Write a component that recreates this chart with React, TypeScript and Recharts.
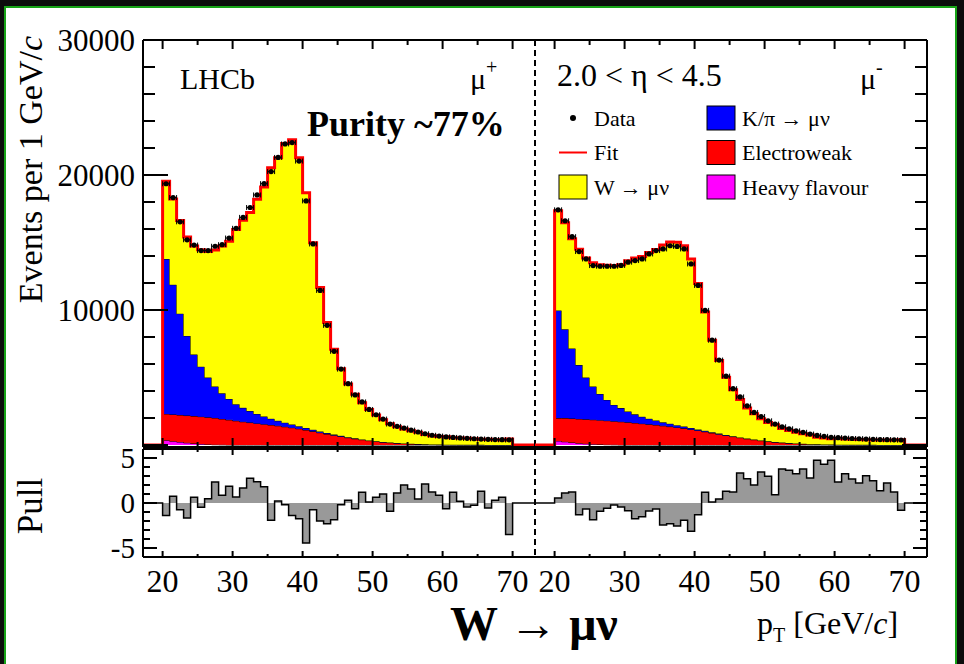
import React from "react";
import { ComposedChart, Area, Line, Scatter, XAxis, YAxis, Legend } from "recharts";

const FONT = "'Liberation Serif', 'Times New Roman', serif";

// lower edges of the 1 GeV pT bins
const bins = [
  20, 21, 22, 23, 24, 25, 26, 27, 28, 29, 30, 31, 32, 33, 34, 35, 36, 37, 38, 39,
  40, 41, 42, 43, 44, 45, 46, 47, 48, 49, 50, 51, 52, 53, 54, 55, 56, 57, 58, 59,
  60, 61, 62, 63, 64, 65, 66, 67, 68, 69,
];
const binEnd = 70;
const xRange = [17.2, 73.2];
const yRange = [-150, 30000];

// mu+ panel
const plusW = [
  5760, 6360, 6900, 7330, 8040, 8660, 9350, 10110, 10910, 11690,
  12950, 13900, 14700, 15900, 17000, 18590, 19480, 20680, 21090, 19890,
  17420, 13850, 10660, 8190, 6320, 4960, 3940, 3260, 2710, 2290,
  1940, 1650, 1400, 1200, 1070, 965, 880, 720, 650, 610,
  590, 510, 500, 490, 460, 400, 420, 390, 370, 440,
];
const plusKpi = [
  11480, 9610, 7510, 5900, 4560, 3700, 2940, 2330, 1900, 1550,
  1230, 1030, 860, 700, 570, 460, 370, 300, 240, 190,
  150, 120, 95, 75, 60, 48, 38, 30, 24, 19,
  15, 12, 10, 8, 6, 5, 4, 3, 3, 2,
  2, 2, 1, 1, 1, 1, 1, 1, 1, 1,
];
const plusEw = [
  1950, 1980, 2000, 2020, 2030, 2030, 2010, 1980, 1920, 1860,
  1790, 1720, 1660, 1600, 1540, 1480, 1420, 1350, 1280, 1200,
  1110, 1010, 910, 810, 720, 630, 540, 460, 390, 320,
  260, 210, 170, 135, 105, 80, 60, 45, 35, 25,
  20, 15, 12, 10, 8, 7, 6, 5, 4, 3,
];
const plusHf = [
  350, 280, 220, 160, 110, 70, 40, 20, 10, 0,
  0, 0, 0, 0, 0, 0, 0, 0, 0, 0,
  0, 0, 0, 0, 0, 0, 0, 0, 0, 0,
  0, 0, 0, 0, 0, 0, 0, 0, 0, 0,
  0, 0, 0, 0, 0, 0, 0, 0, 0, 0,
];
const plusData = [
  19350, 18330, 16530, 15200, 14810, 14400, 14400, 14720, 14840, 15330,
  16050, 16860, 17590, 18520, 19360, 20250, 21300, 22300, 22400, 21030,
  18080, 14890, 11450, 8860, 6940, 5620, 4540, 3710, 3190, 2630,
  2240, 1920, 1550, 1380, 1250, 1100, 960, 830, 720, 660,
  600, 560, 520, 490, 460, 440, 420, 400, 390, 380,
];
const plusPull = [
  -1.4, 0.74, -0.74, -1.67, 0.63, -0.48, 0.48, 2.33, 0.85, 1.85,
  0.67, 1.67, 2.74, 2.37, 1.81, -1.93, 0.22, -0.19, -1.4, -1.74,
  -4.44, -0.74, -2.0, -2.3, -1.85, -0.19, 0.3, -0.63, 1.19, 0.11,
  0.63, 1.0, -0.93, 1.11, 2.0, 1.56, 0.44, 2.11, 1.22, 0.85,
  -0.63, 1.19, 0.19, -0.44, -0.26, 1.3, -0.56, 0.3, 0.63, -3.5,
];

// mu- panel
const minusW = [
  7380, 7900, 8130, 8570, 8870, 9170, 9570, 9970, 10300, 10620,
  11160, 11590, 11870, 12320, 12670, 13130, 13470, 13550, 13390, 12520,
  10800, 8800, 6810, 5420, 4270, 3440, 2800, 2270, 1910, 1620,
  1400, 1290, 1040, 930, 840, 740, 670, 530, 490, 430,
  470, 420, 410, 400, 370, 360, 360, 340, 360, 380,
];
const minusKpi = [
  7980, 6580, 5190, 3990, 3090, 2460, 1940, 1540, 1210, 1010,
  800, 640, 510, 410, 330, 260, 210, 170, 135, 110,
  85, 68, 54, 43, 34, 27, 21, 17, 13, 10,
  8, 6, 5, 4, 3, 3, 2, 2, 1, 1,
  1, 1, 1, 1, 1, 1, 1, 1, 1, 1,
];
const minusEw = [
  1690, 1750, 1780, 1800, 1810, 1810, 1805, 1780, 1750, 1720,
  1680, 1630, 1580, 1530, 1480, 1420, 1360, 1300, 1230, 1150,
  1070, 980, 890, 800, 710, 620, 540, 460, 390, 320,
  260, 210, 170, 135, 105, 80, 60, 45, 35, 25,
  20, 15, 12, 10, 8, 7, 6, 5, 4, 3,
];
const minusHf = [
  300, 240, 180, 130, 90, 60, 35, 20, 10, 0,
  0, 0, 0, 0, 0, 0, 0, 0, 0, 0,
  0, 0, 0, 0, 0, 0, 0, 0, 0, 0,
  0, 0, 0, 0, 0, 0, 0, 0, 0, 0,
  0, 0, 0, 0, 0, 0, 0, 0, 0, 0,
];
const minusData = [
  17420, 16610, 15430, 14330, 13780, 13290, 13240, 13240, 13240, 13300,
  13540, 13660, 13780, 14150, 14400, 14520, 14760, 14710, 14520, 13410,
  11820, 9970, 7760, 6290, 5100, 4170, 3560, 2900, 2410, 2110,
  1790, 1550, 1350, 1200, 1050, 940, 810, 710, 640, 570,
  540, 510, 480, 460, 440, 420, 400, 390, 380, 370,
];
const minusPull = [
  0.56, 1.11, 1.22, -1.3, -0.67, -1.85, -0.93, -0.59, -0.22, -0.44,
  -0.85, -1.74, -1.52, -0.89, -0.67, -2.44, -2.3, -2.56, -1.93, -3.15,
  -1.3, 1.19, 0.11, 0.44, 1.3, 1.22, 3.33, 2.7, 2.0, 3.44,
  2.96, 0.93, 3.78, 3.63, 3.26, 3.78, 2.78, 4.74, 4.3, 4.74,
  2.33, 3.26, 2.67, 2.22, 3.04, 2.48, 1.37, 2.22, 1.22, -0.81,
];

// axis ticks
const xTicks = [20, 25, 30, 35, 40, 45, 50, 55, 60, 65, 70];
const xLabels = [20, 30, 40, 50, 60, 70];
const yTicks = [0, 2000, 4000, 6000, 8000, 10000, 12000, 14000, 16000, 18000, 20000, 22000, 24000, 26000, 28000, 30000];
const yLabels = [10000, 20000, 30000];
const pullTicks = [-5, -4, -3, -2, -1, 0, 1, 2, 3, 4, 5];
const pullLabels = [-5, 0, 5];

const C = {
  w: "#ffff00",
  kpi: "#0000ff",
  ew: "#ff0000",
  hf: "#ff00ff",
  fit: "#ff0000",
  pull: "#999999",
};

const legendItems = [
  { label: "Data", kind: "marker", color: "#000" },
  { label: "K/\u03c0 \u2192 \u03bc\u03bd", kind: "box", color: C.kpi },
  { label: "Fit", kind: "line", color: C.fit },
  { label: "Electroweak", kind: "box", color: C.ew },
  { label: "W  \u2192 \u03bc\u03bd", kind: "box", color: C.w },
  { label: "Heavy flavour", kind: "box", color: C.hf },
];

function stackRows(w: number[], kpi: number[], ew: number[], hf: number[]) {
  const zero = { hf: 0, ew: 0, kpi: 0, w: 0, fit: 0 };
  const rows = [{ x: xRange[0], ...zero }];
  bins.forEach((b, i) =>
    rows.push({ x: b, hf: hf[i], ew: ew[i], kpi: kpi[i], w: w[i], fit: hf[i] + ew[i] + kpi[i] + w[i] })
  );
  rows.push({ x: binEnd, ...zero }, { x: xRange[1], ...zero });
  return rows;
}

function pointRows(data: number[]) {
  return bins.map((b, i) => ({ x: b + 0.5, y: data[i] }));
}

function pullRows(pull: number[]) {
  const rows = [{ x: xRange[0], pull: 0 }];
  bins.forEach((b, i) => rows.push({ x: b, pull: pull[i] }));
  rows.push({ x: binEnd, pull: 0 }, { x: xRange[1], pull: 0 });
  return rows;
}

const DataPoint = (p: any) => {
  const { cx, cy } = p;
  if (cx == null || cy == null) return null;
  return (
    <g>
      <line x1={cx - 3.5} x2={cx + 3.5} y1={cy} y2={cy} stroke="#000" strokeWidth={1} />
      <line x1={cx - 3.5} x2={cx - 3.5} y1={cy - 2.5} y2={cy + 2.5} stroke="#000" strokeWidth={1} />
      <line x1={cx + 3.5} x2={cx + 3.5} y1={cy - 2.5} y2={cy + 2.5} stroke="#000" strokeWidth={1} />
      <circle cx={cx} cy={cy} r={2.6} fill="#000" />
    </g>
  );
};

// ticks drawn inside the frame, ROOT style
const xTick = (dir: number, major: number, minor: number, label: boolean) => (p: any) => {
  const v = p.payload.value;
  const isMajor = xLabels.includes(v);
  const len = isMajor ? major : minor;
  return (
    <g>
      <line x1={p.x} x2={p.x} y1={p.y} y2={p.y + dir * len} stroke="#000" strokeWidth={2} />
      {label && isMajor && (
        <text x={p.x} y={p.y + 35} textAnchor="middle" fontFamily={FONT} fontSize={32} fill="#000">
          {v}
        </text>
      )}
    </g>
  );
};

const yTick = (dir: number, major: number, minor: number, majors: number[], labels: number[] | null, fs: number) => (p: any) => {
  const v = p.payload.value;
  const len = majors.includes(v) ? major : minor;
  return (
    <g>
      <line x1={p.x} x2={p.x + dir * len} y1={p.y} y2={p.y} stroke="#000" strokeWidth={2} />
      {labels && labels.includes(v) && (
        <text x={p.x - 8} y={p.y} dy="0.35em" textAnchor="end" fontFamily={FONT} fontSize={fs} fill="#000">
          {v}
        </text>
      )}
    </g>
  );
};

const frame = { stroke: "#000", strokeWidth: 2 };
const dashed = { stroke: "#000", strokeWidth: 2, strokeDasharray: "6 4" };
const yMajors = [0, 10000, 20000, 30000];

const LegendBox = () => (
  <svg width={340} height={100} style={{ display: "block" }}>
    {legendItems.map((it, i) => {
      const col = i % 2;
      const row = Math.floor(i / 2);
      const x0 = col === 0 ? 0 : 148;
      const cy = 13 + row * 34.5;
      const tx = col === 0 ? 36 : 184;
      return (
        <g key={it.label}>
          {it.kind === "marker" && <circle cx={x0 + 15} cy={cy} r={3} fill="#000" />}
          {it.kind === "line" && <line x1={x0 + 1} x2={x0 + 29} y1={cy} y2={cy} stroke={it.color} strokeWidth={2} />}
          {it.kind === "box" && (
            <rect x={x0 + 1} y={cy - 12} width={28} height={24} fill={it.color} stroke="#000" strokeWidth={1} />
          )}
          <text x={tx} y={cy} dy="0.35em" fontFamily={FONT} fontSize={22} fill="#000">
            {it.label}
          </text>
        </g>
      );
    })}
  </svg>
);

function UpperPanel(props: { rows: any[]; points: any[]; side: "left" | "right" }) {
  const left = props.side === "left";
  return (
    <ComposedChart
      width={left ? 540 : 434}
      height={452}
      data={props.rows}
      margin={{ top: 39, right: left ? 4 : 36, bottom: 4, left: left ? 0 : 5 }}
    >
      <XAxis xAxisId="b" dataKey="x" type="number" domain={xRange} allowDataOverflow ticks={xTicks} interval={0}
        height={1} tickSize={0} tickMargin={0} tickLine={false} axisLine={frame} tick={xTick(-1, 9, 5, false)} />
      <XAxis xAxisId="t" orientation="top" dataKey="x" type="number" domain={xRange} allowDataOverflow ticks={xTicks} interval={0}
        height={1} tickSize={0} tickMargin={0} tickLine={false} axisLine={frame} tick={xTick(1, 9, 5, false)} />
      {left ? (
        <YAxis yAxisId="y" type="number" domain={yRange} allowDataOverflow ticks={yTicks} interval={0} width={143}
          tickSize={0} tickMargin={0} tickLine={false} axisLine={frame} tick={yTick(1, 25, 12, yMajors, yLabels, 31)} />
      ) : (
        <YAxis yAxisId="y" orientation="right" type="number" domain={yRange} allowDataOverflow ticks={yTicks} interval={0} width={1}
          tickSize={0} tickMargin={0} tickLine={false} axisLine={frame} tick={yTick(-1, 25, 12, yMajors, null, 31)} />
      )}
      {left && (
        <YAxis yAxisId="d" orientation="right" type="number" domain={yRange} width={1} tick={false} tickLine={false} axisLine={dashed} />
      )}
      <Area xAxisId="b" yAxisId="y" type="stepAfter" dataKey="hf" stackId="s" fill={C.hf} fillOpacity={1} stroke="#000" strokeWidth={1} isAnimationActive={false} />
      <Area xAxisId="b" yAxisId="y" type="stepAfter" dataKey="ew" stackId="s" fill={C.ew} fillOpacity={1} stroke="#000" strokeWidth={1} isAnimationActive={false} />
      <Area xAxisId="b" yAxisId="y" type="stepAfter" dataKey="kpi" stackId="s" fill={C.kpi} fillOpacity={1} stroke="#000" strokeWidth={1} isAnimationActive={false} />
      <Area xAxisId="b" yAxisId="y" type="stepAfter" dataKey="w" stackId="s" fill={C.w} fillOpacity={1} stroke="#000" strokeWidth={1} isAnimationActive={false} />
      <Line xAxisId="b" yAxisId="y" type="stepAfter" dataKey="fit" stroke={C.fit} strokeWidth={3} dot={false} isAnimationActive={false} />
      <Scatter xAxisId="b" yAxisId="y" data={props.points} dataKey="y" shape={DataPoint} isAnimationActive={false} />
      {!left && (
        <Legend layout="horizontal" verticalAlign="middle" align="center" wrapperStyle={{ left: 28, top: 105, width: 340 }} content={() => <LegendBox />} />
      )}
    </ComposedChart>
  );
}

function PullPanel(props: { rows: any[]; side: "left" | "right" }) {
  const left = props.side === "left";
  return (
    <ComposedChart
      width={left ? 540 : 434}
      height={224}
      data={props.rows}
      margin={{ top: 8, right: left ? 4 : 36, bottom: 106, left: left ? 0 : 5 }}
    >
      <XAxis xAxisId="b" dataKey="x" type="number" domain={xRange} allowDataOverflow ticks={xTicks} interval={0}
        height={1} tickSize={0} tickMargin={0} tickLine={false} axisLine={frame} tick={xTick(-1, 6, 3, true)} />
      <XAxis xAxisId="t" orientation="top" dataKey="x" type="number" domain={xRange} allowDataOverflow ticks={xTicks} interval={0}
        height={1} tickSize={0} tickMargin={0} tickLine={false} axisLine={frame} tick={xTick(1, 6, 3, false)} />
      {left ? (
        <YAxis yAxisId="y" type="number" domain={[-6, 6]} allowDataOverflow ticks={pullTicks} interval={0} width={143}
          tickSize={0} tickMargin={0} tickLine={false} axisLine={frame} tick={yTick(1, 14, 7, pullLabels, pullLabels, 29)} />
      ) : (
        <YAxis yAxisId="y" orientation="right" type="number" domain={[-6, 6]} allowDataOverflow ticks={pullTicks} interval={0} width={1}
          tickSize={0} tickMargin={0} tickLine={false} axisLine={frame} tick={yTick(-1, 14, 7, pullLabels, null, 29)} />
      )}
      {left && (
        <YAxis yAxisId="d" orientation="right" type="number" domain={[-6, 6]} width={1} tick={false} tickLine={false} axisLine={dashed} />
      )}
      <Area xAxisId="b" yAxisId="y" type="stepAfter" dataKey="pull" baseValue={0} fill={C.pull} fillOpacity={1} stroke="#000" strokeWidth={1.5} isAnimationActive={false} />
    </ComposedChart>
  );
}

export default function App() {
  const plusRows = stackRows(plusW, plusKpi, plusEw, plusHf);
  const minusRows = stackRows(minusW, minusKpi, minusEw, minusHf);
  return (
    <div style={{ position: "absolute", left: 0, top: 0, width: 964, height: 664, background: "#0c0c0c", overflow: "hidden" }}>
      <div style={{ position: "absolute", left: 4, top: 6, width: 953, height: 680, background: "#fff", border: "2px solid #17a317", boxSizing: "border-box" }} />
      <div style={{ position: "absolute", left: 0, top: 0 }}>
        <UpperPanel rows={plusRows} points={pointRows(plusData)} side="left" />
      </div>
      <div style={{ position: "absolute", left: 530, top: 0 }}>
        <UpperPanel rows={minusRows} points={pointRows(minusData)} side="right" />
      </div>
      <div style={{ position: "absolute", left: 0, top: 440 }}>
        <PullPanel rows={pullRows(plusPull)} side="left" />
      </div>
      <div style={{ position: "absolute", left: 530, top: 440 }}>
        <PullPanel rows={pullRows(minusPull)} side="right" />
      </div>
      <svg width={964} height={664} style={{ position: "absolute", left: 0, top: 0, pointerEvents: "none" }} fontFamily={FONT}>
        <text transform="translate(42,36) rotate(-90)" textAnchor="end" fontSize={34}>
          Events per 1 GeV/<tspan fontStyle="italic">c</tspan>
        </text>
        <text transform="translate(42,506) rotate(-90)" textAnchor="middle" fontSize={35}>
          Pull
        </text>
        <text x={180} y={89} fontSize={30}>LHCb</text>
        <text x={470} y={89} fontSize={30}>
          {"\u03bc"}
          <tspan dy={-15} fontSize={20}>+</tspan>
        </text>
        <text x={307} y={136} fontSize={36} fontWeight="bold">Purity ~77%</text>
        <text x={557} y={86} fontSize={32}>{"2.0 < \u03b7 < 4.5"}</text>
        <text x={860} y={89} fontSize={30}>
          {"\u03bc"}
          <tspan dy={-15} fontSize={20}>-</tspan>
        </text>
        <text x={450} y={640} fontSize={48} fontWeight="bold">{"W \u2192 \u03bc\u03bd"}</text>
        <text x={757} y={634} fontSize={32}>
          p<tspan dy={8} fontSize={20}>T</tspan>
          <tspan dy={-8}> [GeV/</tspan>
          <tspan fontStyle="italic">c</tspan>]
        </text>
      </svg>
    </div>
  );
}
